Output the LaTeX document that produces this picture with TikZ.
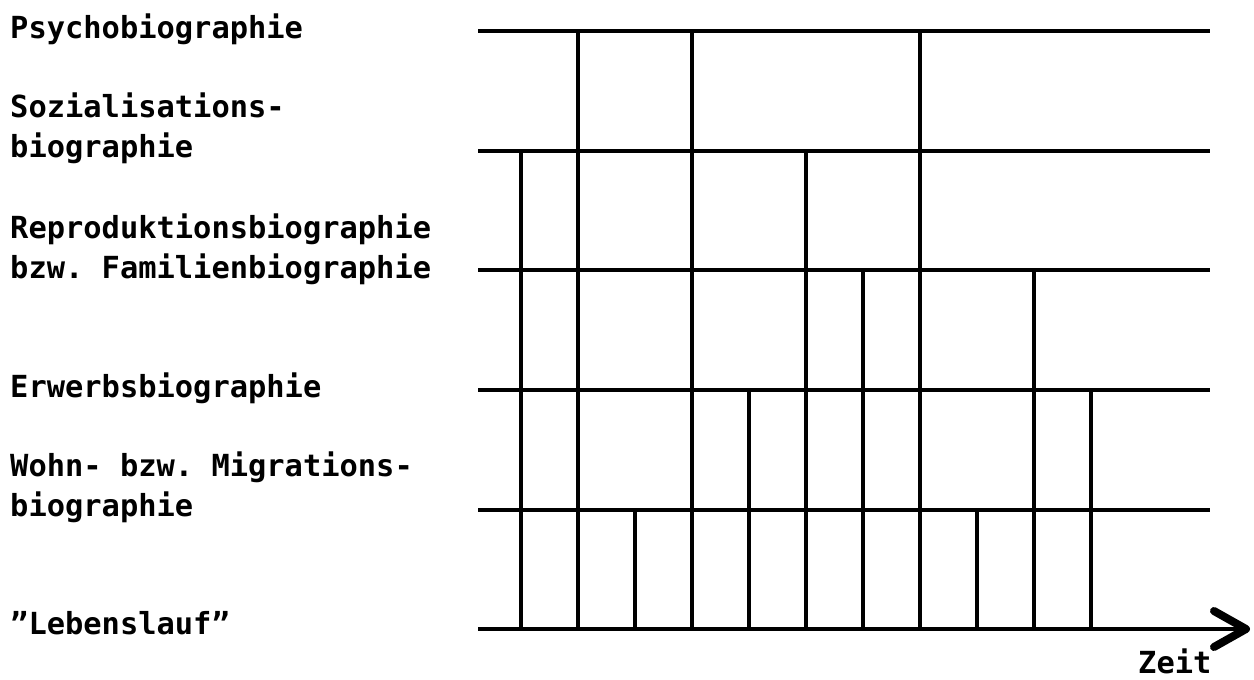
\documentclass[tikz,border=0pt]{standalone}
\usepackage{fontspec}
\setmonofont{DejaVu Sans Mono}
\usetikzlibrary{arrows.meta}

\begin{document}
\begin{tikzpicture}[x=1pt,y=-1pt,
  lane/.style={line width=4.5pt},
  tick/.style={line width=4pt},
  lbl/.style={font=\ttfamily\bfseries\fontsize{30.4}{40}\selectfont, inner sep=0pt,
    anchor=base west, align=left}
]
\useasboundingbox (0,0) rectangle (1254,680);

% Zeitlinien
\foreach \n/\y in {psy/31,soz/151,rep/270,erw/390,wohn/510,leb/629}{
  \coordinate (\n-l) at (478,\y);
  \coordinate (\n-r) at (1210,\y);
}
\foreach \n in {psy,soz,rep,erw,wohn}
  \draw[lane] (\n-l) -- (\n-r);
\coordinate (leb-end) at (1250,629);
\draw[lane, -{Straight Barb[length=32pt,width=36pt,line width=8pt,round]}]
  (leb-l) -- (leb-end);

% Uebergaenge
\foreach \k/\n in {0/soz,1/psy,2/wohn,3/psy,4/erw,5/soz,6/rep,7/psy,8/wohn,9/rep,10/erw}{
  \coordinate (t\k) at (521+57*\k,0);
  \draw[tick] (t\k |- \n-l) -- (t\k |- leb-l);
}

% Beschriftung (Grundlinie der letzten Zeile)
\node[lbl] (psy-txt) at (10,38) {Psychobiographie};
\node[lbl] (soz-txt) at (10,157) {Sozialisations-\\biographie};
\node[lbl] (rep-txt) at (10,278) {Reproduktionsbiographie\\bzw. Familienbiographie};
\node[lbl] (erw-txt) at (10,397) {Erwerbsbiographie};
\node[lbl] (wohn-txt) at (10,516) {Wohn- bzw. Migrations-\\biographie};
\node[lbl] (leb-txt) at (10,634) {”Lebenslauf”};
\node[lbl] (zeit) at (1138,673) {Zeit};

\end{tikzpicture}
\end{document}
